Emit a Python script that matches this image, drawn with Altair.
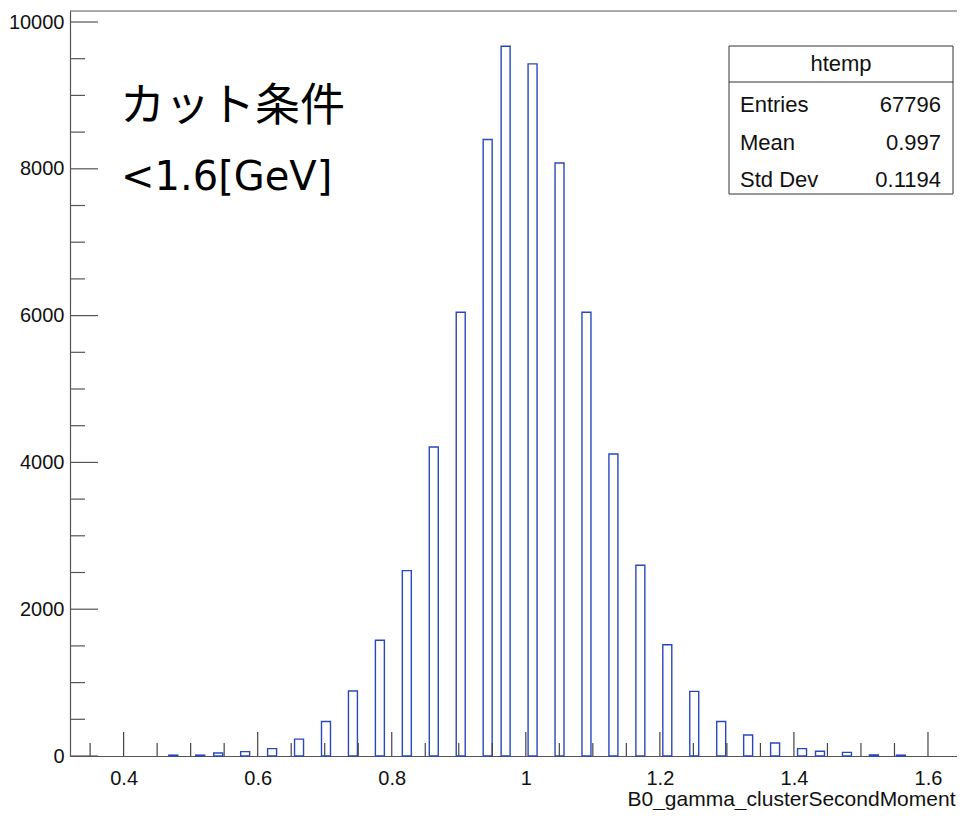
import altair as alt
import pandas as pd

# ---- histogram data ----
XMIN = 0.32
BIN_W = 0.0134
bin_index = [11, 14, 16, 19, 22, 25, 28, 31, 34, 37, 40, 43, 46, 48, 51,
             54, 57, 60, 63, 66, 69, 72, 75, 78, 81, 83, 86, 89, 92]
counts = [12, 12, 40, 60, 100, 230, 470, 885, 1576, 2525, 4210, 6045, 8400, 9670, 9430,
          8080, 6045, 4114, 2598, 1516, 880, 470, 286, 177, 100, 64, 50, 15, 12]

x_major = [0.4, 0.6, 0.8, 1.0, 1.2, 1.4, 1.6]
x_minor = [0.35, 0.45, 0.5, 0.55, 0.65, 0.7, 0.75, 0.85, 0.9, 0.95, 1.05, 1.1,
           1.15, 1.25, 1.3, 1.35, 1.45, 1.5, 1.55]
y_major = [0, 2000, 4000, 6000, 8000, 10000]
y_minor = [500, 1000, 1500, 2500, 3000, 3500, 4500, 5000, 5500, 6500, 7000, 7500,
           8500, 9000, 9500]

stat_names = ["Entries", "Mean", "Std Dev"]
stat_values = ["67796", "0.997", "0.1194"]
hist_name = "htemp"
x_title = "B0_gamma_clusterSecondMoment"
note_line1 = "カット条件"
note_line2 = "<1.6[GeV]"

W, H = 887, 745
X_DOMAIN = [0.32, 0.32 + 887 / 670.3]
Y_DOMAIN = [0, 10150]
FONT = "Liberation Sans, Arial, sans-serif"
AXIS_COL = "#555555"
BAR_COL = "#2a48bd"

hist = pd.DataFrame({"i": bin_index, "count": counts})
hist["lo"] = XMIN + hist["i"] * BIN_W
hist["hi"] = hist["lo"] + BIN_W
hist["zero"] = 0

xs = alt.Scale(domain=X_DOMAIN, nice=False, zero=False)
ys = alt.Scale(domain=Y_DOMAIN, nice=False)

bars = alt.Chart(hist).mark_rect(filled=False, stroke=BAR_COL, strokeWidth=1.4).encode(
    x=alt.X("lo:Q", scale=xs, axis=alt.Axis(
        values=x_major, format="~g", ticks=False, grid=False, domainColor=AXIS_COL,
        domainWidth=1.2, labelFont=FONT, labelFontSize=20, labelColor="#111111",
        labelPadding=12, labelFlush=False, labelOverlap=False,
        title=x_title, titleFont=FONT, titleFontSize=21, titleFontWeight="normal",
        titleColor="#111111", titleX=885, titleY=49, titleAlign="right",
        titleBaseline="alphabetic")),
    x2="hi:Q",
    y=alt.Y("count:Q", scale=ys, axis=alt.Axis(
        values=y_major, format="d", ticks=False, grid=False, domainColor=AXIS_COL,
        domainWidth=1.2, labelFont=FONT, labelFontSize=20, labelColor="#111111",
        labelPadding=6, labelOverlap=False, title=None)),
    y2="zero:Q",
)

def xticks(vals, length):
    return alt.Chart(pd.DataFrame({"lo": vals})).mark_rule(color="#444444", strokeWidth=1.2).encode(
        x=alt.X("lo:Q", scale=xs),
        y=alt.value(H), y2=alt.value(H - length))

def yticks(vals, length):
    return alt.Chart(pd.DataFrame({"count": vals})).mark_rule(color="#555555", strokeWidth=1.2).encode(
        y=alt.Y("count:Q", scale=ys),
        x=alt.value(0), x2=alt.value(length))

one = pd.DataFrame({"a": [0]})
top_line = alt.Chart(one).mark_rule(color=AXIS_COL, strokeWidth=1.2).encode(
    x=alt.value(0), x2=alt.value(W), y=alt.value(0))

# stats box
box = alt.Chart(one).mark_rect(fill="white", stroke="#333333", strokeWidth=1).encode(
    x=alt.value(659), x2=alt.value(883), y=alt.value(35), y2=alt.value(183))
box_sep = alt.Chart(one).mark_rule(color="#333333", strokeWidth=1).encode(
    x=alt.value(659), x2=alt.value(883), y=alt.value(71))
box_title = alt.Chart(pd.DataFrame({"t": [hist_name]})).mark_text(
    font=FONT, fontSize=22, align="center", baseline="alphabetic", color="#111111").encode(
    text="t:N", x=alt.value(771), y=alt.value(60))

stats = pd.DataFrame({"name": stat_names, "val": stat_values, "row": [0, 1, 2]})
stat_base = alt.Chart(stats).transform_calculate(ypix="101 + datum.row * 37.5")
stat_names_l = stat_base.mark_text(font=FONT, fontSize=22, align="left",
                                   baseline="alphabetic", color="#111111").encode(
    text="name:N", x=alt.value(670), y=alt.Y("ypix:Q", scale=None))
stat_vals_l = stat_base.mark_text(font=FONT, fontSize=22, align="right",
                                  baseline="alphabetic", color="#111111").encode(
    text="val:N", x=alt.value(871), y=alt.Y("ypix:Q", scale=None))

note1 = alt.Chart(pd.DataFrame({"t": [note_line1]})).mark_text(
    font="Noto Sans CJK JP", fontSize=45, align="left", baseline="alphabetic", color="black").encode(
    text="t:N", x=alt.value(50), y=alt.value(110))
note2 = alt.Chart(pd.DataFrame({"t": [note_line2]})).mark_text(
    font="DejaVu Sans", fontSize=40, align="left", baseline="alphabetic", color="black").encode(
    text="t:N", x=alt.value(51), y=alt.value(179))

chart = alt.layer(
    bars, xticks(x_major, 24), xticks(x_minor, 13), yticks(y_major, 28), yticks(y_minor, 15),
    top_line, box, box_sep, box_title, stat_names_l, stat_vals_l, note1, note2
).properties(
    width=W, height=H,
    autosize=alt.AutoSizeParams(type="none"),
    padding={"left": 62, "top": 3, "right": 0, "bottom": 54},
    background="white",
).configure_view(stroke=None)

chart.save("out.html", embed_options={"renderer": "svg", "actions": False})
